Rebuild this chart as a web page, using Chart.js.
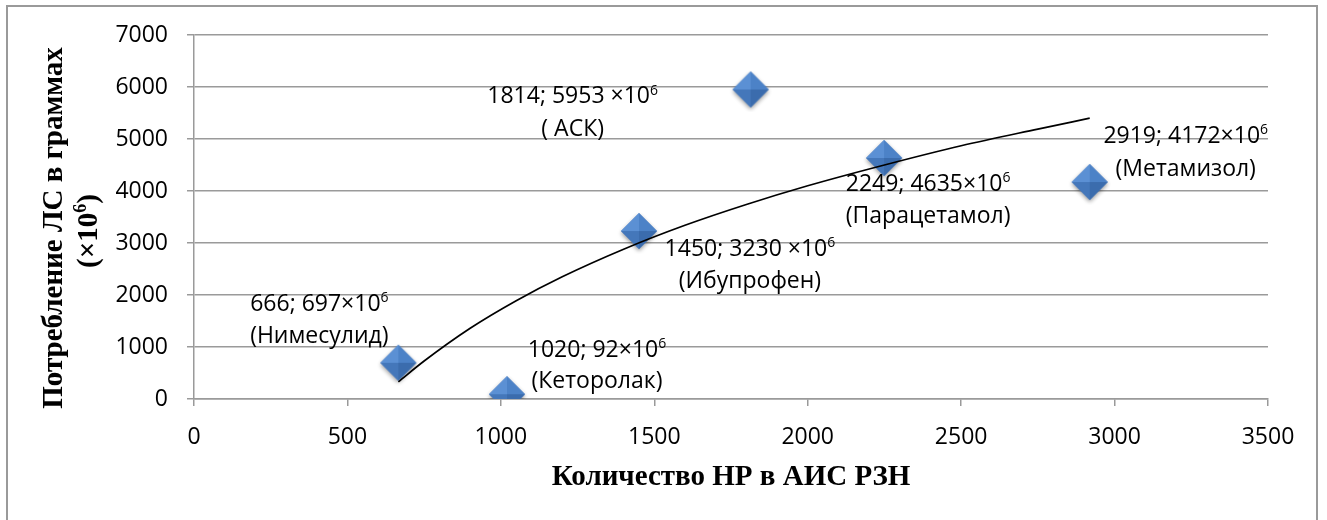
<!DOCTYPE html>
<html>
<head>
<meta charset="utf-8">
<script src="https://cdn.jsdelivr.net/npm/chart.js@4.4.1/dist/chart.umd.min.js"></script>
<style>
    html, body { margin: 0; padding: 0; background: #fff; overflow: hidden; }
    #wrap { position: relative; width: 1327px; height: 520px; }
    #frame { position: absolute; left: 6px; top: 5px; width: 1312px; height: 600px; border: 2px solid #9a9a9a; box-sizing: border-box; }
    canvas { position: absolute; left: 0; top: 0; }
</style>
</head>
<body>
<div id="wrap">
    <div id="frame"></div>
    <canvas id="myChart" width="1327" height="520"></canvas>
</div>
<script>
// data
const reportCounts = [666, 1020, 1450, 1814, 2249, 2919];
const consumption = [697, 92, 3230, 5953, 4635, 4172];
const valueLabels = ['666; 697×10', '1020; 92×10', '1450; 3230 ×10', '1814; 5953 ×10', '2249; 4635×10', '2919; 4172×10'];
const nameLabels = ['(Нимесулид)', '(Кеторолак)', '(Ибупрофен)', '( АСК)', '(Парацетамол)', '(Метамизол)'];

// trend line
const trendX = [666, 750, 900, 1050, 1200, 1400, 1600, 1800, 2000, 2250, 2500, 2750, 2919];
const trendY = [330, 730, 1360, 1890, 2350, 2880, 3340, 3740, 4100, 4500, 4870, 5190, 5400];

const xTicks = [0, 500, 1000, 1500, 2000, 2500, 3000, 3500];
const yTicks = [0, 1000, 2000, 3000, 4000, 5000, 6000, 7000];

const xTitle = 'Количество НР в АИС РЗН';
const yTitle = ['Потребление ЛС в граммах', '(×10', '6', ')'];

const tickFont = { family: '"Open Sans", sans-serif', size: 23 };
const gridColor = '#9a9a9a';
const labelSize = 23;
const titleFont = 'bold 29px "Liberation Serif", serif';

// label placement relative to each point: [dx, dy line 1, dy line 2]
const labelOffsets = [[-79, -60, -28], [90, -45, -14], [111, 17, 49], [-178, 6, 39], [44, 25, 57], [96, -47, -14]];

function makeDiamond(r) {
    const c = document.createElement('canvas');
    const s = 2 * r + 10;
    c.width = s;
    c.height = s;
    const g = c.getContext('2d');
    const cx = s / 2, cy = s / 2;
    g.save();
    g.shadowColor = 'rgba(0,0,0,0.4)';
    g.shadowBlur = 4;
    g.shadowOffsetY = 2;
    g.beginPath();
    g.moveTo(cx, cy - r);
    g.lineTo(cx + r, cy);
    g.lineTo(cx, cy + r);
    g.lineTo(cx - r, cy);
    g.closePath();
    g.fillStyle = '#4a7fc4';
    g.fill();
    g.restore();
    const facets = [
        [[cx - r, cy], [cx, cy - r], '#5b90d4'],
        [[cx, cy - r], [cx + r, cy], '#4c82c7'],
        [[cx + r, cy], [cx, cy + r], '#3b6cad'],
        [[cx, cy + r], [cx - r, cy], '#4477ba']
    ];
    facets.forEach(f => {
        g.beginPath();
        g.moveTo(cx, cy);
        g.lineTo(f[0][0], f[0][1]);
        g.lineTo(f[1][0], f[1][1]);
        g.closePath();
        g.fillStyle = f[2];
        g.fill();
    });
    return c;
}

function drawSupText(ctx, main, sup, cx, y, size) {
    const big = size + 'px "Open Sans", sans-serif';
    const small = Math.round(size * 0.62) + 'px "Open Sans", sans-serif';
    ctx.font = big;
    const w1 = ctx.measureText(main).width;
    ctx.font = small;
    const w2 = ctx.measureText(sup).width;
    const x0 = cx - (w1 + w2) / 2;
    ctx.textAlign = 'left';
    ctx.font = big;
    ctx.fillText(main, x0, y);
    ctx.font = small;
    ctx.fillText(sup, x0 + w1, y - size * 0.38);
}

const pointLabelPlugin = {
    id: 'pointLabels',
    afterDatasetsDraw(chart) {
        const ctx = chart.ctx;
        const xs = chart.scales.x, ys = chart.scales.y;
        ctx.save();
        ctx.fillStyle = '#000';
        ctx.textBaseline = 'alphabetic';
        reportCounts.forEach((v, i) => {
            const px = xs.getPixelForValue(v);
            const py = ys.getPixelForValue(consumption[i]);
            const off = labelOffsets[i];
            drawSupText(ctx, valueLabels[i], '6', px + off[0], py + off[1] + 8, labelSize);
            ctx.font = labelSize + 'px "Open Sans", sans-serif';
            ctx.textAlign = 'center';
            ctx.fillText(nameLabels[i], px + off[0], py + off[2] + 8);
        });
        ctx.restore();
    },
    afterDraw(chart) {
        const ctx = chart.ctx;
        const area = chart.chartArea;
        ctx.save();
        ctx.fillStyle = '#000';
        ctx.textBaseline = 'alphabetic';
        ctx.font = titleFont;
        ctx.textAlign = 'center';
        ctx.fillText(xTitle, (area.left + area.right) / 2, 485);

        ctx.translate(62, 228);
        ctx.rotate(-Math.PI / 2);
        ctx.fillText(yTitle[0], 0, 0);
        ctx.restore();

        ctx.save();
        ctx.fillStyle = '#000';
        ctx.translate(97, 231);
        ctx.rotate(-Math.PI / 2);
        ctx.font = titleFont;
        const a = ctx.measureText(yTitle[1]).width;
        const c = ctx.measureText(yTitle[3]).width;
        ctx.font = 'bold 18px "Liberation Serif", serif';
        const b = ctx.measureText(yTitle[2]).width;
        const x0 = -(a + b + c) / 2;
        ctx.textAlign = 'left';
        ctx.font = titleFont;
        ctx.fillText(yTitle[1], x0, 0);
        ctx.font = 'bold 18px "Liberation Serif", serif';
        ctx.fillText(yTitle[2], x0 + a, -11);
        ctx.font = titleFont;
        ctx.fillText(yTitle[3], x0 + a + b, 0);
        ctx.restore();
    }
};

const ctx = document.getElementById('myChart');

const consumptionChart = new Chart(ctx, {
    type: 'scatter',
    data: {
        datasets: [{
            label: 'Тренд',
            data: trendX.map((x, i) => ({ x: x, y: trendY[i] })),
            showLine: true,
            borderColor: '#000',
            borderWidth: 1.7,
            pointRadius: 0,
            cubicInterpolationMode: 'monotone',
            order: 0
        }, {
            label: 'Потребление',
            data: reportCounts.map((x, i) => ({ x: x, y: consumption[i] })),
            pointStyle: makeDiamond(18),
            pointRadius: 18,
            order: 1
        }]
    },
    options: {
        responsive: false,
        animation: false,
        devicePixelRatio: 1,
        layout: { padding: { top: 35, right: 59, left: 0, bottom: 0 } },
        plugins: {
            legend: { display: false },
            tooltip: { enabled: false }
        },
        scales: {
            x: {
                type: 'linear',
                min: xTicks[0],
                max: xTicks[xTicks.length - 1],
                afterBuildTicks: s => { s.ticks = xTicks.map(v => ({ value: v })); },
                afterFit: s => { s.height = 121; },
                ticks: { font: tickFont, color: '#000', padding: 18, maxRotation: 0, callback: v => String(v) },
                grid: { drawOnChartArea: false, drawTicks: true, tickLength: 7, color: gridColor, lineWidth: 1.5 },
                border: { color: gridColor, width: 1.5 }
            },
            y: {
                min: yTicks[0],
                max: yTicks[yTicks.length - 1],
                afterBuildTicks: s => { s.ticks = yTicks.map(v => ({ value: v })); },
                afterFit: s => { s.width = 194; },
                ticks: { font: tickFont, color: '#000', padding: 19, callback: v => String(v) },
                grid: { drawTicks: true, tickLength: 7, color: gridColor, lineWidth: 1.5 },
                border: { color: gridColor, width: 1.5 }
            }
        }
    },
    plugins: [pointLabelPlugin]
});
</script>
</body>
</html>
